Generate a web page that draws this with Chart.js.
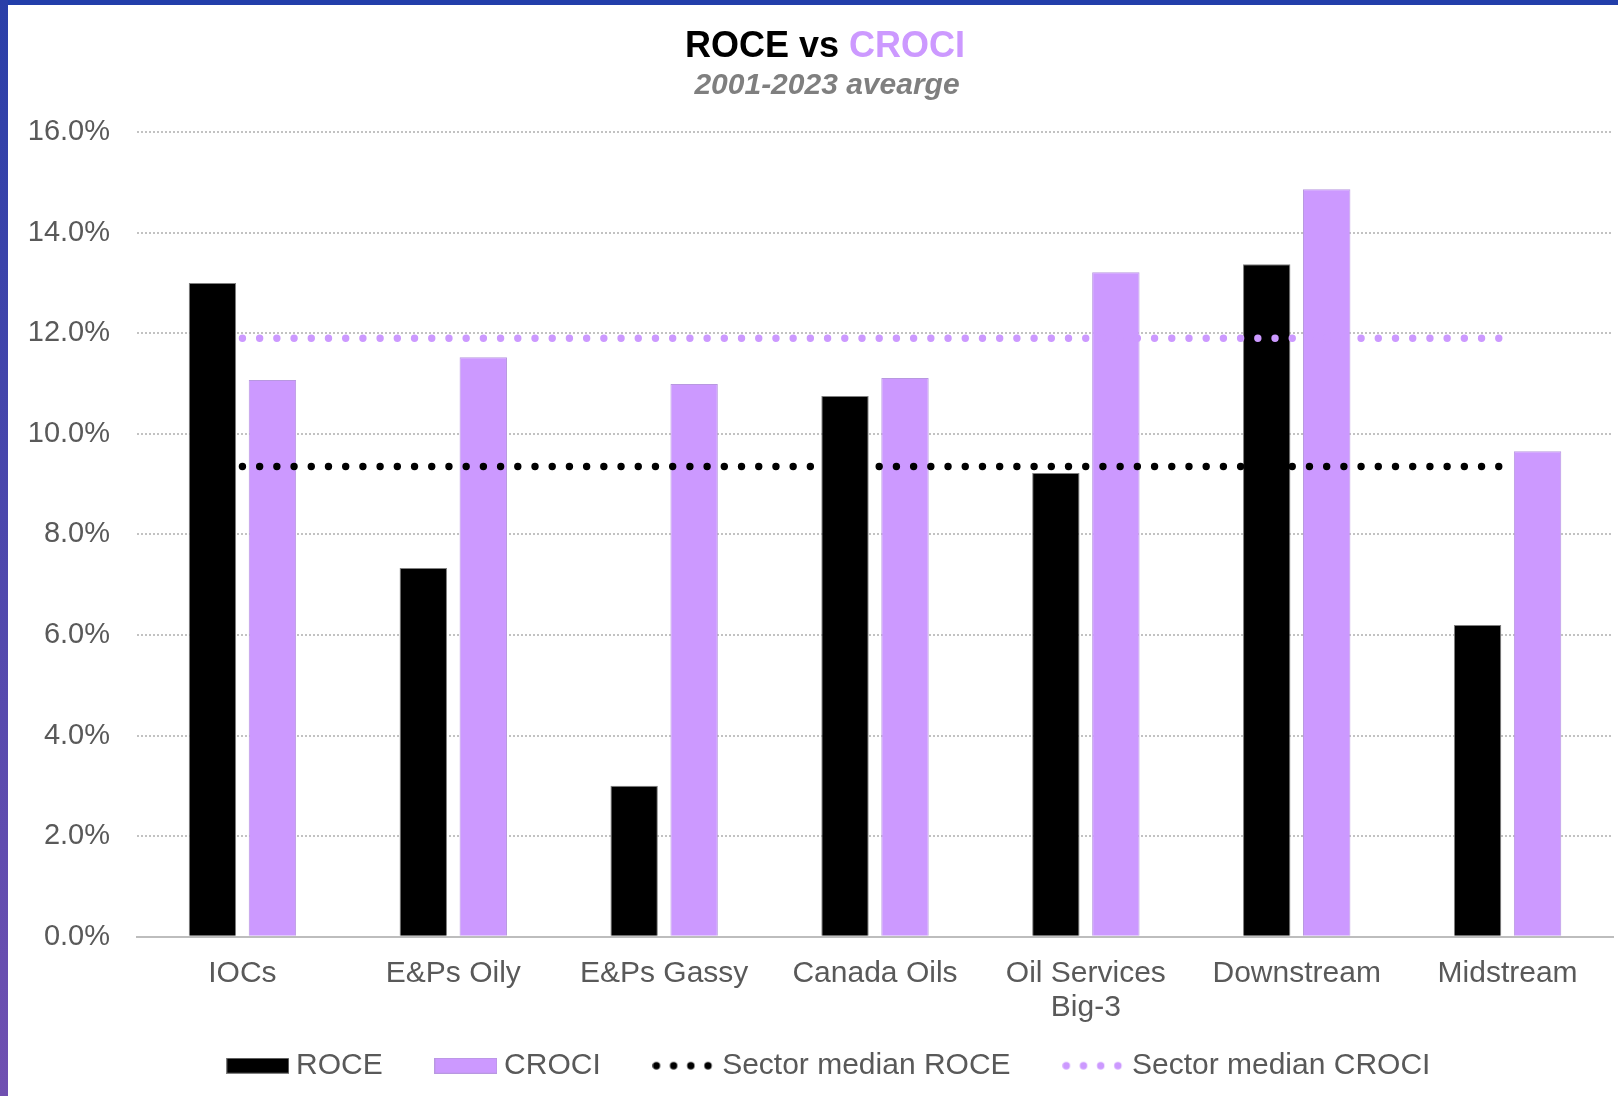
<!DOCTYPE html>
<html>
<head>
<meta charset="utf-8">
<title>ROCE vs CROCI</title>
<script src="https://cdn.jsdelivr.net/npm/chart.js@4.4.0/dist/chart.umd.min.js"></script>
<style>
  html, body { margin: 0; padding: 0; background: #fff; }
  #frame { position: relative; width: 1618px; height: 1096px; overflow: hidden; background: #fff; }
  #topBar { position: absolute; left: 0; top: 0; width: 1618px; height: 5px; background: #223eaa; }
  #leftBar { position: absolute; left: 0; top: 0; width: 8px; height: 1096px; background: linear-gradient(#2a3fa8, #7050b1); }
  #wrap { position: absolute; left: 8px; top: 5px; width: 1610px; height: 1091px; }
</style>
</head>
<body>
<div id="frame">
  <div id="topBar"></div>
  <div id="leftBar"></div>
  <div id="wrap"><canvas id="chartReturns" width="1610" height="1091"></canvas></div>
</div>
<script>
"use strict";

var categories = ["IOCs", "E&Ps Oily", "E&Ps Gassy", "Canada Oils", ["Oil Services", "Big-3"], "Downstream", "Midstream"];
var roce = [13.0, 7.33, 3.0, 10.75, 9.22, 13.37, 6.2];
var croci = [11.07, 11.52, 10.99, 11.11, 13.21, 14.86, 9.65];
var medianRoce = [9.35, 9.35, 9.35, 9.35, 9.35, 9.35, 9.35];
var medianCroci = [11.9, 11.9, 11.9, 11.9, 11.9, 11.9, 11.9];
var yMin = 0;
var yMax = 16;
var yStep = 2;

var BLACK = "#000000";
var LILAC = "#cc99ff";
var GREY_TEXT = "#595959";
var FONT = "'Liberation Sans', Arial, sans-serif";

// little canvases used as legend symbols
function makeBoxIcon(fill, stroke) {
  var c = document.createElement("canvas");
  c.width = 63;
  c.height = 16;
  var ctx = c.getContext("2d");
  ctx.fillStyle = fill;
  ctx.fillRect(0, 0, 63, 16);
  ctx.strokeStyle = stroke;
  ctx.lineWidth = 1;
  ctx.strokeRect(0.5, 0.5, 62, 15);
  return c;
}

function makeDotsIcon(color) {
  var c = document.createElement("canvas");
  c.width = 63;
  c.height = 16;
  var ctx = c.getContext("2d");
  ctx.fillStyle = color;
  for (var i = 0; i < 4; i++) {
    ctx.beginPath();
    ctx.arc(4 + i * 17.2, 8, 3.7, 0, Math.PI * 2);
    ctx.fill();
  }
  return c;
}

var legendIcons = [
  makeBoxIcon(BLACK, "#808080"),
  makeBoxIcon(LILAC, "#b898e0"),
  makeDotsIcon(BLACK),
  makeDotsIcon(LILAC)
];

// two coloured title plus grey subtitle
var titlePlugin = {
  id: "twoToneTitle",
  afterDraw: function(chart) {
    var ctx = chart.ctx;
    ctx.save();
    ctx.textBaseline = "alphabetic";
    ctx.textAlign = "left";
    ctx.font = "bold 36px " + FONT;
    var partA = "ROCE vs ";
    var partB = "CROCI";
    var wA = ctx.measureText(partA).width;
    var wB = ctx.measureText(partB).width;
    var x0 = 817 - (wA + wB) / 2;
    ctx.fillStyle = BLACK;
    ctx.fillText(partA, x0, 52);
    ctx.fillStyle = LILAC;
    ctx.fillText(partB, x0 + wA, 52);

    ctx.font = "italic bold 30px " + FONT;
    ctx.fillStyle = "#7f7f7f";
    ctx.textAlign = "center";
    ctx.fillText("2001-2023 avearge", 819, 89);
    ctx.restore();
  }
};

// the legend sits a bit right of the canvas centre and overlaps the label band
var legendPlacePlugin = {
  id: "legendPlace",
  afterLayout: function(chart) {
    var lg = chart.legend;
    if (!lg) return;
    lg.left = 44;
    lg.width = lg.right - lg.left;
    lg.top = 985.7;
    lg.height = 100;
    lg.bottom = lg.top + lg.height;
  }
};

var chartReturns = new Chart("chartReturns", {
  type: "bar",
  data: {
    labels: categories,
    datasets: [
      {
        label: "ROCE",
        data: roce,
        backgroundColor: BLACK,
        borderColor: "#808080",
        borderWidth: 1,
        order: 2,
        categoryPercentage: 0.569,
        barPercentage: 0.79
      },
      {
        label: "CROCI",
        data: croci,
        backgroundColor: LILAC,
        borderColor: "#b898e0",
        borderWidth: 1,
        order: 2,
        categoryPercentage: 0.569,
        barPercentage: 0.79
      },
      {
        label: "Sector median ROCE",
        type: "line",
        data: medianRoce,
        borderColor: BLACK,
        borderWidth: 7.4,
        borderDash: [0.01, 17.2],
        borderCapStyle: "round",
        pointRadius: 0,
        fill: false,
        order: 1
      },
      {
        label: "Sector median CROCI",
        type: "line",
        data: medianCroci,
        borderColor: LILAC,
        borderWidth: 7.4,
        borderDash: [0.01, 17.2],
        borderCapStyle: "round",
        pointRadius: 0,
        fill: false,
        order: 1
      }
    ]
  },
  options: {
    responsive: false,
    animation: false,
    devicePixelRatio: 1,
    layout: {
      padding: { left: 0, right: 5, top: 127, bottom: 0 }
    },
    plugins: {
      title: { display: false },
      tooltip: { enabled: false },
      legend: {
        display: true,
        position: "bottom",
        maxHeight: 69.3,
        labels: {
          usePointStyle: true,
          pointStyleWidth: 46.4,
          padding: 60,
          color: GREY_TEXT,
          font: { family: FONT, size: 30 },
          generateLabels: function(chart) {
            return chart.data.datasets.map(function(ds, i) {
              return {
                text: ds.label,
                pointStyle: legendIcons[i],
                datasetIndex: i,
                hidden: false,
                lineWidth: 0,
                fontColor: GREY_TEXT
              };
            });
          }
        }
      }
    },
    scales: {
      x: {
        grid: { display: false, drawTicks: false },
        border: { display: true, color: "#bdbdbd", width: 2 },
        ticks: {
          color: GREY_TEXT,
          font: { family: FONT, size: 30, lineHeight: 1.13 },
          padding: 20.5,
          autoSkip: false,
          maxRotation: 0
        },
        afterFit: function(scale) { scale.height = 90; }
      },
      y: {
        min: yMin,
        max: yMax,
        border: { display: false, dash: [2, 2] },
        grid: {
          drawTicks: false,
          color: "#c2c2c2",
          lineWidth: 2
        },
        ticks: {
          stepSize: yStep,
          color: GREY_TEXT,
          font: { family: FONT, size: 29 },
          padding: 27,
          callback: function(v) { return v.toFixed(1) + "%"; }
        },
        afterFit: function(scale) { scale.width = 129; }
      }
    }
  },
  plugins: [titlePlugin, legendPlacePlugin]
});
</script>
</body>
</html>
